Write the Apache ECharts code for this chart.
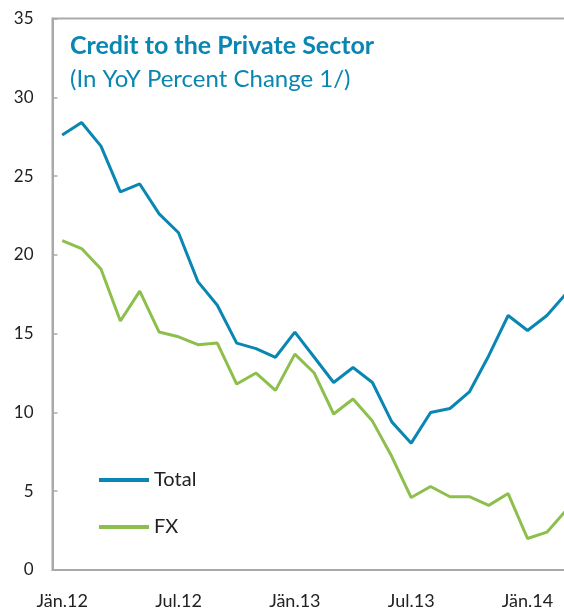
<!DOCTYPE html>
<html>
<head>
<meta charset="utf-8">
<script src="https://cdn.jsdelivr.net/npm/echarts@6/dist/echarts.min.js"></script>
<style>
  html, body { margin: 0; padding: 0; background: #fff; }
  #main { width: 564px; height: 610px; }
</style>
</head>
<body>
<div id="main"></div>
<script>
// monthly, Jän.12 .. Mär.14
const months = ['Jän.12','Feb.12','Mär.12','Apr.12','Mai.12','Jun.12','Jul.12','Aug.12','Sep.12','Okt.12','Nov.12','Dez.12',
                'Jän.13','Feb.13','Mär.13','Apr.13','Mai.13','Jun.13','Jul.13','Aug.13','Sep.13','Okt.13','Nov.13','Dez.13',
                'Jän.14','Feb.14','Mär.14'];
const total = [27.6, 28.4, 26.9, 24.0, 24.5, 22.6, 21.4, 18.3, 16.8, 14.4, 14.05, 13.5,
               15.1, 13.5, 11.9, 12.85, 11.9, 9.4, 8.05, 10.0, 10.25, 11.3, 13.6, 16.15,
               15.2, 16.15, 17.55];
const fx = [20.9, 20.4, 19.1, 15.8, 17.7, 15.1, 14.8, 14.3, 14.4, 11.8, 12.5, 11.4,
            13.7, 12.5, 9.9, 10.85, 9.45, 7.2, 4.6, 5.3, 4.65, 4.65, 4.1, 4.85,
            2.0, 2.4, 3.8];
const yTicks = [0, 5, 10, 15, 20, 25, 30, 35];

const blue = '#0a86b2';
const green = '#8dbf4c';
const axisGray = '#a9a9a9';
const font = 'Lato, "Open Sans", sans-serif';

const chart = echarts.init(document.getElementById('main'));
chart.setOption({
    animation: false,
    textStyle: { fontFamily: font },
    title: {
        text: 'Credit to the Private Sector',
        subtext: '(In YoY Percent Change 1/)',
        left: 65,
        top: 28,
        itemGap: 9,
        textStyle: { color: blue, fontSize: 25, fontWeight: 'bold', fontFamily: font },
        subtextStyle: { color: blue, fontSize: 24, fontFamily: font }
    },
    legend: {
        orient: 'vertical',
        left: 99,
        top: 470,
        padding: 0,
        itemWidth: 50,
        itemHeight: 4,
        itemGap: 27,
        icon: 'rect',
        textStyle: { color: '#222', fontSize: 20, lineHeight: 20, fontFamily: font },
        data: ['Total', 'FX']
    },
    grid: {
        left: 52.5,
        top: 18.5,
        width: 523.5,
        bottom: 40,
        show: true,
        borderColor: axisGray,
        borderWidth: 2,
        containLabel: false,
        outerBoundsMode: 'none'
    },
    xAxis: {
        type: 'category',
        data: months,
        boundaryGap: true,
        axisLine: { lineStyle: { color: axisGray, width: 2 } },
        axisTick: { inside: true, length: 6, interval: 5, lineStyle: { color: axisGray, width: 1.5 } },
        axisLabel: { interval: 5, color: '#222', fontSize: 18, margin: 22 },
        splitLine: { show: false }
    },
    yAxis: {
        type: 'value',
        min: yTicks[0],
        max: yTicks[yTicks.length - 1],
        interval: 5,
        axisLine: { show: true, lineStyle: { color: axisGray, width: 2 } },
        axisTick: { show: true, inside: true, length: 5, lineStyle: { color: axisGray, width: 1.5 } },
        axisLabel: { color: '#222', fontSize: 17, margin: 19 },
        splitLine: { show: false }
    },
    series: [
        {
            name: 'Total',
            type: 'line',
            data: total,
            symbol: 'none',
            lineStyle: { color: blue, width: 3 },
            itemStyle: { color: blue }
        },
        {
            name: 'FX',
            type: 'line',
            data: fx,
            symbol: 'none',
            lineStyle: { color: green, width: 3 },
            itemStyle: { color: green }
        }
    ]
});
</script>
</body>
</html>
